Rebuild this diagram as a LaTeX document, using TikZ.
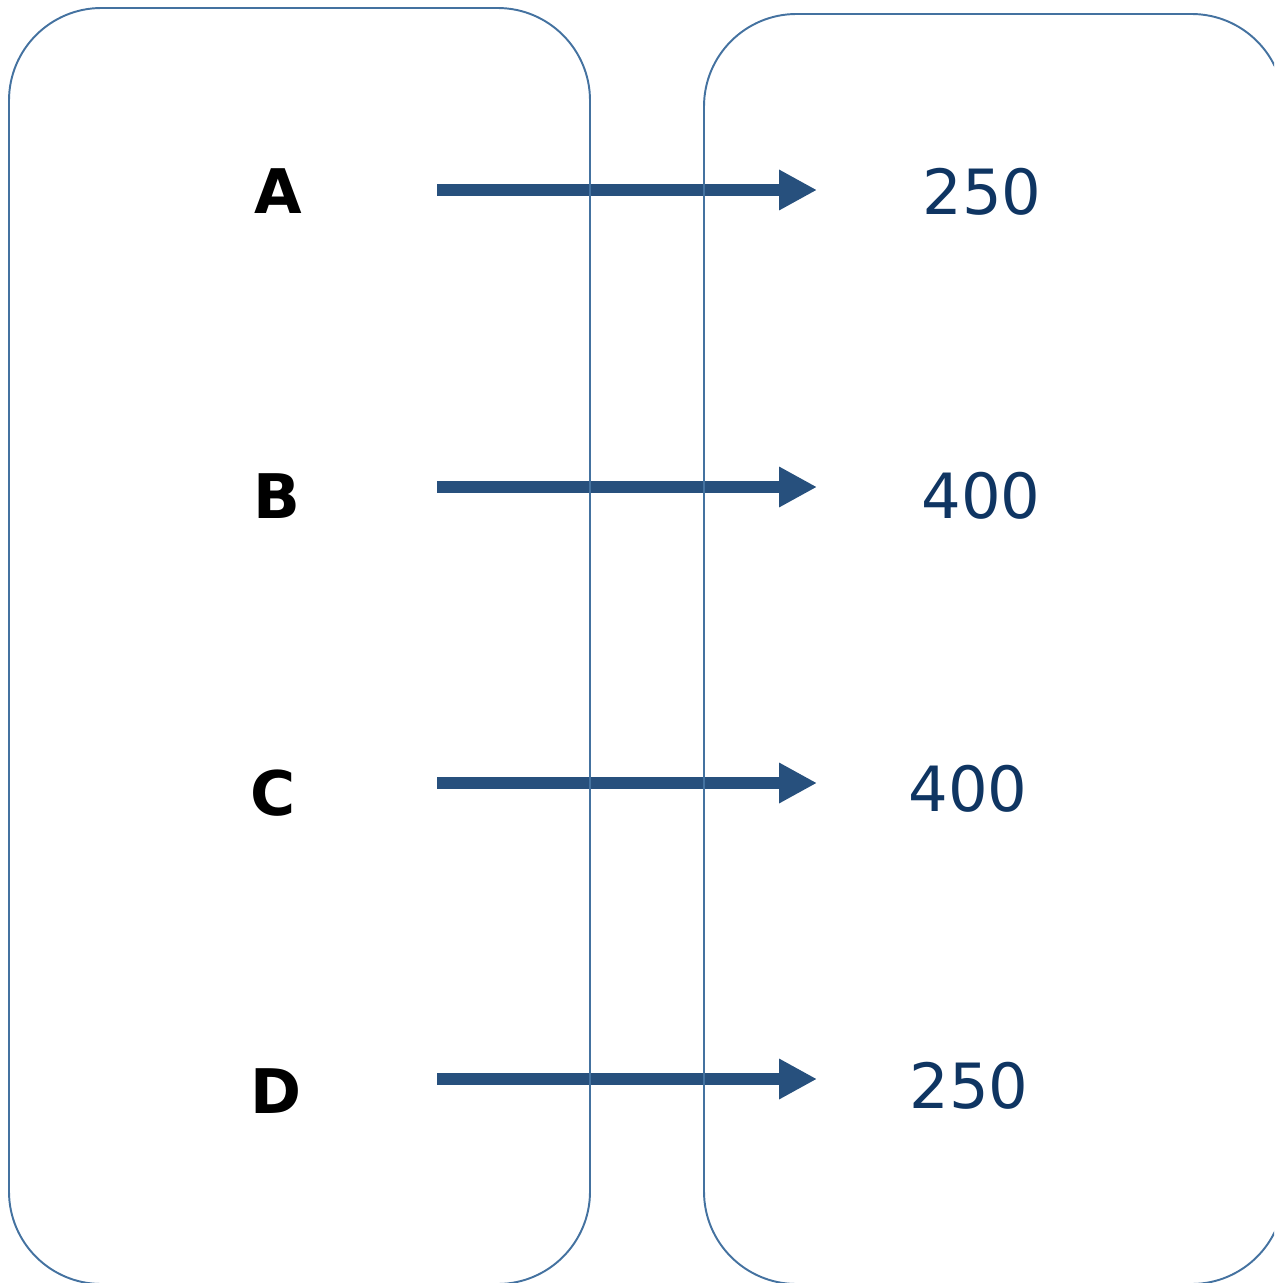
\documentclass[tikz,border=0pt]{standalone}
\usepackage{fontspec}
\setmainfont{DejaVu Sans}
\usetikzlibrary{arrows.meta}
\definecolor{boxblue}{HTML}{4472A0}
\definecolor{arrowblue}{HTML}{27507D}
\definecolor{numblue}{HTML}{0F3562}
\begin{document}
\begin{tikzpicture}[x=0.02cm,y=-0.02cm,
  setbox/.style={draw=boxblue,line width=1.1pt,rounded corners=1.85cm},
  letter/.style={font=\fontsize{35}{40}\selectfont\bfseries,text=black,anchor=center},
  num/.style={font=\fontsize{35.5}{40}\selectfont,text=numblue,anchor=center},
  maparrow/.style={draw=arrowblue,line width=0.24cm,-{Triangle[length=0.76cm,width=0.76cm]}}]
\useasboundingbox (0,0) rectangle (1274,1283);
\clip (0,0) rectangle (1274,1283);
\node[letter] (A) at (278,191) {A};
\node[letter] (B) at (277,496) {B};
\node[letter] (C) at (273,793) {C};
\node[letter] (D) at (276,1091) {D};
\node[num] (n1) at (982,192) {250};
\node[num] (n2) at (981,496) {400};
\node[num] (n3) at (968,789) {400};
\node[num] (n4) at (969,1086) {250};
\foreach \i/\y in {1/190,2/487,3/783,4/1079}{
  \coordinate (s\i) at (437,\y);
  \coordinate (e\i) at (817,\y);
  \draw[maparrow] (s\i) -- (e\i);
}
\draw[setbox] (9,8) rectangle (590,1284);
\draw[setbox] (704,14) rectangle (1284,1284);
\end{tikzpicture}
\end{document}
